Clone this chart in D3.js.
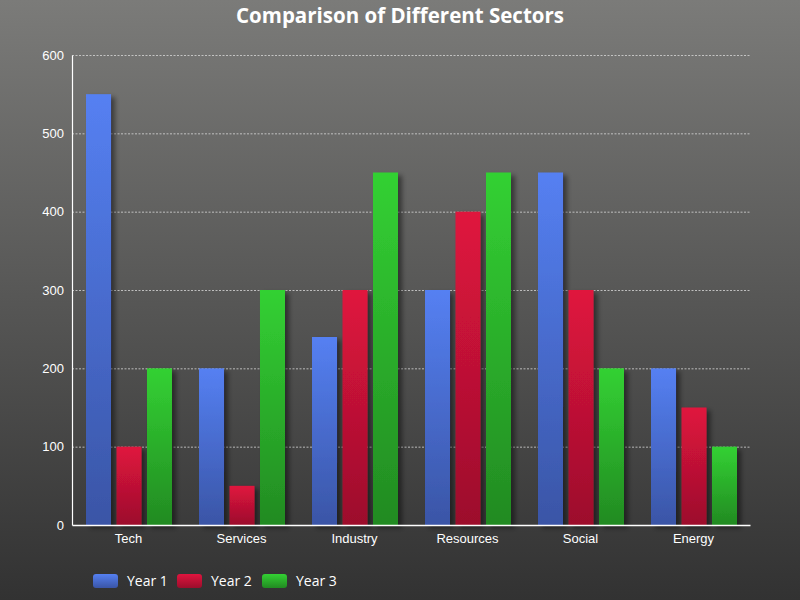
<!DOCTYPE html>
<html lang="en">
<head>
  <meta charset="UTF-8">
  <title>Comparison of Different Sectors</title>
  <style>
    body { margin: 0; }
    svg { display: block; font-family: "Open Sans", "Noto Sans", sans-serif; }
  </style>
</head>
<body>
  <script src="https://cdnjs.cloudflare.com/ajax/libs/d3/7.8.5/d3.min.js"></script>
  <svg></svg>
  <script>
    var categories = ['Tech', 'Services', 'Industry', 'Resources', 'Social', 'Energy'];
    var seriesNames = ['Year 1', 'Year 2', 'Year 3'];
    var year1 = [550, 200, 240, 300, 450, 200];
    var year2 = [100, 50, 300, 400, 300, 150];
    var year3 = [200, 300, 450, 450, 200, 100];
    var yTicks = [0, 100, 200, 300, 400, 500, 600];

    var series = [year1, year2, year3];
    var colors = [
      {top: '#5580f2', bottom: '#3a55a6'},
      {top: '#e0143e', bottom: '#9c0e2c'},
      {top: '#33d133', bottom: '#228a22'}
    ];

    var width = 800, height = 600;
    var margins = {top: 55, right: 50, bottom: 75, left: 72};

    var svg = d3.select('svg')
                .attr('width', width)
                .attr('height', height);

    var defs = svg.append('defs');

    // background gradient
    var bg = defs.append('linearGradient')
      .attr('id', 'bg').attr('x1', 0).attr('y1', 0).attr('x2', 0).attr('y2', 1);
    bg.append('stop').attr('offset', '0%').attr('stop-color', '#7b7b79');
    bg.append('stop').attr('offset', '100%').attr('stop-color', '#323232');

    colors.forEach(function(c, i) {
      var g = defs.append('linearGradient')
        .attr('id', 'bar' + i).attr('x1', 0).attr('y1', 0).attr('x2', 0).attr('y2', 1);
      g.append('stop').attr('offset', '0%').attr('stop-color', c.top);
      g.append('stop').attr('offset', '100%').attr('stop-color', c.bottom);
    });

    var shadow = defs.append('filter').attr('id', 'shadow')
      .attr('x', '-20%').attr('y', '-10%').attr('width', '160%').attr('height', '130%');
    shadow.append('feDropShadow')
      .attr('dx', 4).attr('dy', 3).attr('stdDeviation', 2.5)
      .attr('flood-color', '#000').attr('flood-opacity', 0.45);

    svg.append('rect')
      .attr('width', width).attr('height', height)
      .attr('fill', 'url(#bg)');

    var innerW = width - margins.left - margins.right;
    var innerH = height - margins.top - margins.bottom;

    var xScale = d3.scaleBand()
                   .domain(categories)
                   .range([0, innerW]);
    var groupPad = 14;
    var xSub = d3.scaleBand()
                 .domain([0, 1, 2])
                 .range([groupPad, xScale.bandwidth() - groupPad + 1])
                 .paddingInner(0.18)
                 .paddingOuter(0);
    var yScale = d3.scaleLinear()
                   .domain([0, 600])
                   .range([innerH, 0]);

    var chart = svg.append('g')
      .attr('transform', 'translate(' + margins.left + ',' + margins.top + ')');

    // Grid lines
    chart.append('g')
      .selectAll('line')
      .data(yTicks.filter(function(d) { return d > 0; }))
      .enter()
      .append('line')
        .attr('x1', 0)
        .attr('x2', innerW)
        .attr('y1', function(d) { return yScale(d) + 0.5; })
        .attr('y2', function(d) { return yScale(d) + 0.5; })
        .attr('stroke', '#d8d8d8')
        .attr('stroke-width', 0.8)
        .attr('stroke-dasharray', '2,1.5');

    // Bars
    var groups = chart.append('g')
      .selectAll('g')
      .data(categories)
      .enter()
      .append('g')
        .attr('transform', function(d) { return 'translate(' + xScale(d) + ',0)'; });

    groups.selectAll('rect')
      .data(function(d, ci) {
        return series.map(function(s, si) { return {si: si, v: s[ci]}; });
      })
      .enter()
      .append('rect')
        .attr('x', function(d) { return xSub(d.si); })
        .attr('y', function(d) { return yScale(d.v); })
        .attr('width', xSub.bandwidth())
        .attr('height', function(d) { return innerH - yScale(d.v); })
        .attr('fill', function(d) { return 'url(#bar' + d.si + ')'; })
        .attr('filter', 'url(#shadow)');

    // Axes
    var yAxis = chart.append('g')
      .call(d3.axisLeft(yScale).tickValues(yTicks).tickSize(0).tickPadding(8));
    yAxis.select('.domain').attr('stroke', '#fff').attr('stroke-width', 1.2);
    yAxis.selectAll('text').attr('fill', '#fff').style('font-size', '13px');

    var xAxis = chart.append('g')
      .attr('transform', 'translate(0,' + innerH + ')')
      .call(d3.axisBottom(xScale).tickSize(0).tickPadding(9));
    xAxis.select('.domain').attr('stroke', '#fff').attr('stroke-width', 1.5);
    xAxis.selectAll('text').attr('fill', '#fff').style('font-size', '13px');

    // Title
    svg.append('text')
      .attr('x', width / 2)
      .attr('y', 23)
      .attr('text-anchor', 'middle')
      .attr('fill', '#fff')
      .style('font-size', '20.5px')
      .style('font-weight', 'bold')
      .text('Comparison of Different Sectors');

    // Legend
    var legendX = [93, 177, 262];
    var legend = svg.append('g')
      .selectAll('g')
      .data(seriesNames)
      .enter()
      .append('g')
        .attr('transform', function(d, i) { return 'translate(' + legendX[i] + ',574)'; });
    legend.append('rect')
      .attr('width', 25).attr('height', 14).attr('rx', 3)
      .attr('fill', function(d, i) { return 'url(#bar' + i + ')'; });
    legend.append('text')
      .attr('x', 34).attr('y', 12)
      .attr('fill', '#fff')
      .style('font-size', '14px')
      .text(function(d) { return d; });
  </script>
</body>
</html>
